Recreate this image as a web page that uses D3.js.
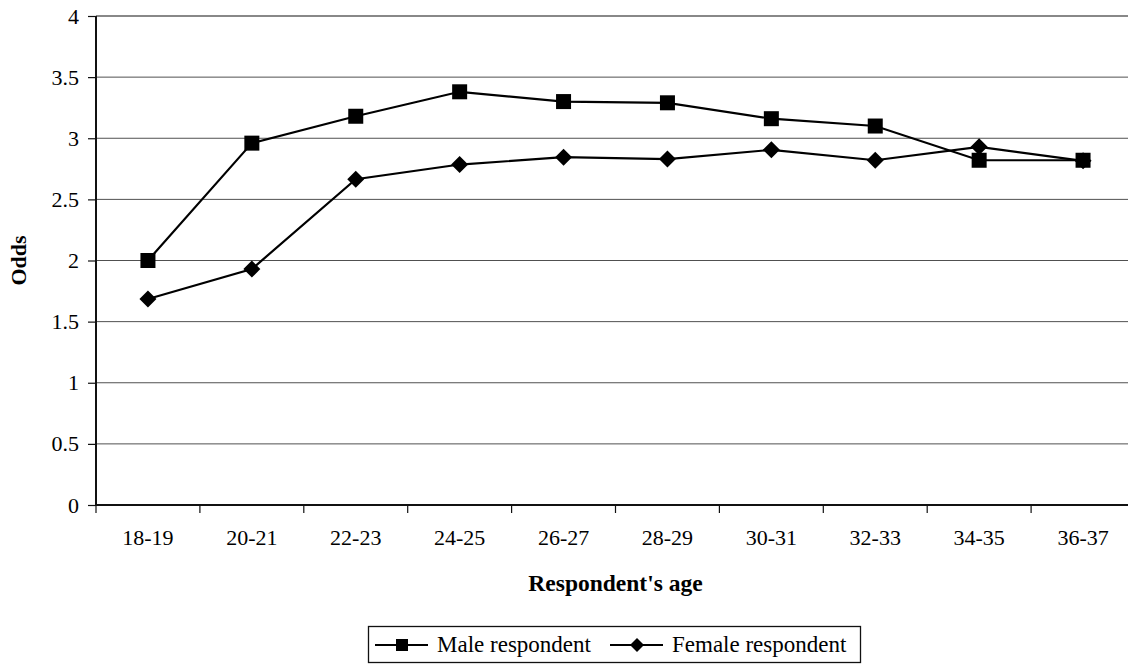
<!DOCTYPE html>
<html><head><meta charset="utf-8">
<script src="https://cdn.jsdelivr.net/npm/d3@7"></script>
<style>body{margin:0;background:#fff}svg{display:block;font-family:"Liberation Serif","Times New Roman",serif}</style>
</head><body><svg id="c" width="1128" height="665"></svg>
<script>
const categories = ["18-19","20-21","22-23","24-25","26-27","28-29","30-31","32-33","34-35","36-37"];
const maleValues = [2.00, 2.96, 3.18, 3.38, 3.30, 3.29, 3.16, 3.10, 2.82, 2.82];
const femaleValues = [1.685, 1.93, 2.665, 2.785, 2.845, 2.83, 2.905, 2.82, 2.93, 2.815];
const yTicks = [0, 0.5, 1, 1.5, 2, 2.5, 3, 3.5, 4];
const seriesNames = ["Male respondent", "Female respondent"];

const svg = d3.select("#c");
const L = 96, R = 1135, T = 16, B = 505;
const x = d3.scaleBand().domain(categories).range([L, R]);
const y = d3.scaleLinear().domain([0, 4]).range([B, T]);

// gridlines
svg.append("g").selectAll("line").data(yTicks.filter(d => d > 0 && d < 4)).join("line")
  .attr("x1", L).attr("x2", R).attr("y1", d => y(d)).attr("y2", d => y(d))
  .attr("stroke", "#505050").attr("stroke-width", 1);
// top border
svg.append("line").attr("x1", L).attr("x2", R).attr("y1", y(4)).attr("y2", y(4))
  .attr("stroke", "#888").attr("stroke-width", 2);

// y axis
const ya = svg.append("g").attr("transform", `translate(${L},0)`)
  .call(d3.axisLeft(y).tickValues(yTicks).tickSize(8).tickPadding(9).tickFormat(d => String(d)));
ya.select(".domain").attr("stroke", "#111").attr("stroke-width", 2).attr("d", `M0,${T}V${B}`);
ya.selectAll(".tick line").attr("stroke", "#111").attr("stroke-width", 1.2);
ya.selectAll("text").attr("font-family", "Liberation Serif").attr("font-size", 22).attr("fill", "#000");

// x axis
const xa = svg.append("g").attr("transform", `translate(0,${B})`)
  .call(d3.axisBottom(x).tickSize(0).tickPadding(24));
xa.select(".domain").attr("stroke", "#111").attr("stroke-width", 2).attr("d", `M${L},0H${R}`);
xa.selectAll("text").attr("font-family", "Liberation Serif").attr("font-size", 22).attr("fill", "#000");
// boundary ticks
const bounds = categories.map(c => x(c)).concat([x(categories[categories.length-1]) + x.bandwidth()]);
svg.append("g").selectAll("line").data(bounds).join("line")
  .attr("x1", d => d).attr("x2", d => d).attr("y1", B).attr("y2", B + 8)
  .attr("stroke", "#111").attr("stroke-width", 1.2);

const cx = c => x(c) + x.bandwidth() / 2;
const line = d3.line().x(d => cx(d.c)).y(d => y(d.v));
const male = categories.map((c, i) => ({c, v: maleValues[i]}));
const female = categories.map((c, i) => ({c, v: femaleValues[i]}));

svg.append("path").datum(male).attr("d", line).attr("fill", "none").attr("stroke", "#000").attr("stroke-width", 2.2);
svg.append("path").datum(female).attr("d", line).attr("fill", "none").attr("stroke", "#000").attr("stroke-width", 2.2);

const sq = 15;
svg.append("g").selectAll("rect").data(male).join("rect")
  .attr("x", d => cx(d.c) - sq/2).attr("y", d => y(d.v) - sq/2).attr("width", sq).attr("height", sq).attr("fill", "#000");
const dm = 8.5;
svg.append("g").selectAll("path").data(female).join("path")
  .attr("d", d => { const px = cx(d.c), py = y(d.v); return `M${px},${py-dm}L${px+dm},${py}L${px},${py+dm}L${px-dm},${py}Z`; })
  .attr("fill", "#000");

// axis titles
svg.append("text").attr("x", (L + R) / 2).attr("y", 591).attr("text-anchor", "middle")
  .attr("font-weight", "bold").attr("font-size", 23.5).text("Respondent's age");
svg.append("text").attr("transform", `translate(26,${(T + B) / 2}) rotate(-90)`).attr("text-anchor", "middle")
  .attr("font-weight", "bold").attr("font-size", 22).text("Odds");

// legend
const lg = svg.append("g");
lg.append("rect").attr("x", 368.5).attr("y", 626.5).attr("width", 492).attr("height", 36)
  .attr("fill", "#fff").attr("stroke", "#111").attr("stroke-width", 1.3);
const items = [{n: seriesNames[0], x0: 375, type: "sq"}, {n: seriesNames[1], x0: 610, type: "dm"}];
items.forEach(it => {
  lg.append("line").attr("x1", it.x0).attr("x2", it.x0 + 53).attr("y1", 645).attr("y2", 645).attr("stroke", "#000").attr("stroke-width", 2.2);
  const mx = it.x0 + 27;
  if (it.type === "sq") lg.append("rect").attr("x", mx - 6).attr("y", 639).attr("width", 12).attr("height", 12).attr("fill", "#000");
  else lg.append("path").attr("d", `M${mx},${645-7}L${mx+7},645L${mx},${645+7}L${mx-7},645Z`).attr("fill", "#000");
  lg.append("text").attr("x", it.x0 + 62).attr("y", 652).attr("font-size", 23).text(it.n);
});
</script></body></html>
